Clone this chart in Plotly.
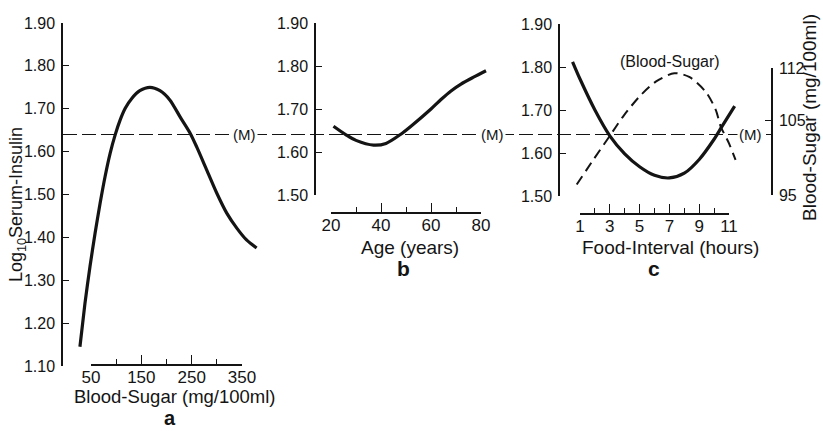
import plotly.graph_objects as go

# ---------------- data ----------------
A_SUGAR = [28, 38, 48, 58, 68, 78, 88, 98, 108, 118, 131, 147, 167, 187, 207, 227,
           247, 260, 280, 300, 320, 340, 359, 379]
A_INSULIN = [1.145, 1.246, 1.332, 1.409, 1.479, 1.542, 1.596, 1.639, 1.674, 1.701, 1.724,
             1.742, 1.750, 1.742, 1.720, 1.681, 1.643, 1.611, 1.557, 1.503, 1.456, 1.421,
             1.394, 1.375]

B_AGE = [21, 26, 30, 37, 42, 47.6, 52, 60, 64, 68, 72, 77, 82]
B_INSULIN = [1.66, 1.64, 1.627, 1.616, 1.62, 1.64, 1.66, 1.70, 1.722, 1.742, 1.758, 1.774,
             1.789]

C_HOURS = [0.5, 1, 2, 3, 4, 5, 6, 7, 8, 9, 10, 10.5, 11.38]
C_INSULIN = [1.812, 1.772, 1.700, 1.640, 1.598, 1.568, 1.548, 1.542, 1.553, 1.585, 1.632,
             1.660, 1.709]

C_BS_HOURS = [0.78, 1.89, 2.96, 3.89, 5.0, 6.11, 7.33, 8.33, 9.44, 10.11, 10.44, 11.0, 11.44]
C_BLOOD_SUGAR = [96.4, 99.7, 102.8, 105.5, 108.2, 110.2, 111.3, 110.8, 108.8, 106.4, 104.2,
                 101.9, 99.7]

M_VALUE = 1.64

A_Y_TICKS = [1.10, 1.20, 1.30, 1.40, 1.50, 1.60, 1.70, 1.80, 1.90]
BC_Y_TICKS = [1.50, 1.60, 1.70, 1.80, 1.90]
A_X_TICKS = [50, 150, 250, 350]
A_X_MINOR = [100, 200, 300]
B_X_TICKS = [20, 40, 60, 80]
B_X_MINOR = [30, 50, 70]
C_X_TICKS = [1, 3, 5, 7, 9, 11]
C_X_MINOR = [2, 4, 6, 8, 10]
BS_TICKS = [95, 105, 112]

# ---------------- layout geometry (pixels) ----------------
W, H = 823, 431


def fx(p):
    return p / W


def fy(p):
    return 1 - p / H


def data_range(v0, v1, p0, p1, left, right):
    k = (p1 - p0) / (v1 - v0)
    return [v0 - (p0 - left) / k, v1 + (right - p1) / k]


INK = "#141414"
TICKFONT = dict(family="Liberation Sans Narrow, Liberation Sans, Arial", size=16, color=INK)
XTICKFONT = dict(family="Liberation Sans, Arial", size=17, color=INK)
TITLEFONT = dict(family="Liberation Sans, Arial", size=19, color=INK)

fig = go.Figure()

# curves
fig.add_trace(go.Scatter(x=A_SUGAR, y=A_INSULIN, xaxis="x", yaxis="y", mode="lines",
                         line=dict(color=INK, width=3.2, shape="spline", smoothing=0.7)))
fig.add_trace(go.Scatter(x=B_AGE, y=B_INSULIN, xaxis="x2", yaxis="y2", mode="lines",
                         line=dict(color=INK, width=3.2, shape="spline", smoothing=0.8)))
fig.add_trace(go.Scatter(x=C_HOURS, y=C_INSULIN, xaxis="x3", yaxis="y3", mode="lines",
                         line=dict(color=INK, width=3.2, shape="spline", smoothing=0.8)))
fig.add_trace(go.Scatter(x=C_BS_HOURS, y=C_BLOOD_SUGAR, xaxis="x3", yaxis="y4", mode="lines",
                         line=dict(color=INK, width=2, dash="10px,6px", shape="spline",
                                   smoothing=0.8)))

# dummy traces so the offset tick axes are drawn
for xa, ya, ticks in [("x4", "y", A_X_TICKS), ("x5", "y2", B_X_TICKS), ("x6", "y3", C_X_TICKS)]:
    fig.add_trace(go.Scatter(x=ticks, y=[None] * len(ticks), xaxis=xa, yaxis=ya,
                             mode="lines", hoverinfo="skip"))

hidden = dict(visible=False, showgrid=False, zeroline=False, fixedrange=True)


def yax(rng, top, bottom, ticks, anchor, **kw):
    d = dict(range=rng, domain=[fy(bottom), fy(top)], tickvals=ticks, tickformat=".2f",
             ticks="inside", ticklen=6, tickwidth=1.3, tickcolor=INK, showline=True,
             linewidth=1.5, linecolor=INK, showgrid=False, zeroline=False, anchor=anchor,
             tickfont=TICKFONT, automargin=False, ticklabelstandoff=3)
    d.update(kw)
    return d


def tickx(v0, v1, p0, p1, ypos, ticks, minor):
    return dict(range=[v0, v1], domain=[fx(p0), fx(p1)], anchor="free", position=fy(ypos),
                tickvals=ticks, ticks="inside", ticklen=9, tickwidth=1.3, tickcolor=INK,
                showline=True, linewidth=1.5, linecolor=INK, showgrid=False, zeroline=False,
                tickfont=XTICKFONT, automargin=False, ticklabelstandoff=-3,
                minor=dict(tickvals=minor, ticks="inside", ticklen=5, tickwidth=1.2,
                           tickcolor=INK, showgrid=False))


fig.update_layout(
    width=W, height=H, autosize=False,
    margin=dict(l=0, r=0, t=0, b=0),
    paper_bgcolor="white", plot_bgcolor="rgba(0,0,0,0)",
    showlegend=False,
    # panel a
    xaxis=dict(domain=[fx(63), fx(262)], range=data_range(50, 350, 91, 242, 63, 262),
               anchor="y", **hidden),
    yaxis=yax([1.10, 1.90], 23, 366, A_Y_TICKS, "x"),
    xaxis4=tickx(50, 350, 91, 242, 365, A_X_TICKS, A_X_MINOR),
    # panel b
    xaxis2=dict(domain=[fx(316), fx(500)], range=data_range(20, 80, 331, 481, 316, 500),
                anchor="y2", **hidden),
    yaxis2=yax([1.50, 1.90], 23, 195, BC_Y_TICKS, "x2"),
    xaxis5=tickx(20, 80, 331, 481, 213, B_X_TICKS, B_X_MINOR),
    # panel c
    xaxis3=dict(domain=[fx(560), fx(771)], range=data_range(1, 11, 580, 729, 560, 771),
                anchor="y3", **hidden),
    yaxis3=yax([1.50, 1.90], 24, 196, BC_Y_TICKS, "x3"),
    yaxis4=yax([95, 112], 68, 195, BS_TICKS, "x3", side="right", tickformat="d"),
    xaxis6=tickx(1, 11, 580, 729, 214, C_X_TICKS, C_X_MINOR),
)

# mean line (M) across all panels
fig.add_shape(type="line", xref="paper", yref="y", x0=fx(63), x1=fx(771), y0=M_VALUE,
              y1=M_VALUE, line=dict(color=INK, width=1.2, dash="14px,5px"), layer="below")

ann = []


def text(t, x, y, font, **kw):
    d = dict(text=t, x=fx(x), y=fy(y), xref="paper", yref="paper", showarrow=False,
             xanchor="center", yanchor="middle", font=font)
    d.update(kw)
    ann.append(d)


text("Blood-Sugar (mg/100ml)", 175, 396, dict(TITLEFONT, size=18.5))
text("Age (years)", 410, 247, TITLEFONT)
text("Food-Interval (hours)", 670, 247, TITLEFONT)
text("Log<sub>10</sub>Serum-Insulin", 17, 205, dict(TITLEFONT, size=18), textangle=-90)
text("Blood-Sugar (mg/100ml)", 810, 118, TITLEFONT, textangle=-90)
LETTER = dict(family="Liberation Sans, Arial", size=20, color=INK)
text("<b>a</b>", 170, 418, LETTER)
text("<b>b</b>", 403, 268, dict(LETTER, size=21))
text("<b>c</b>", 654, 268, dict(LETTER, size=21))
text("(Blood-Sugar)", 670, 62, dict(family="Liberation Sans Narrow, Liberation Sans, Arial",
                                    size=16, color=INK))
MFONT = dict(family="Liberation Sans Narrow, Liberation Sans, Arial", size=15, color=INK)
for mx in (244, 493, 750):
    text("(M)", mx, 135, MFONT, bgcolor="white", borderpad=1)

fig.update_layout(annotations=ann)
fig.write_html("out.html", config={"displayModeBar": False},
               post_script="document.body.style.margin='0';document.body.style.padding='0';")
